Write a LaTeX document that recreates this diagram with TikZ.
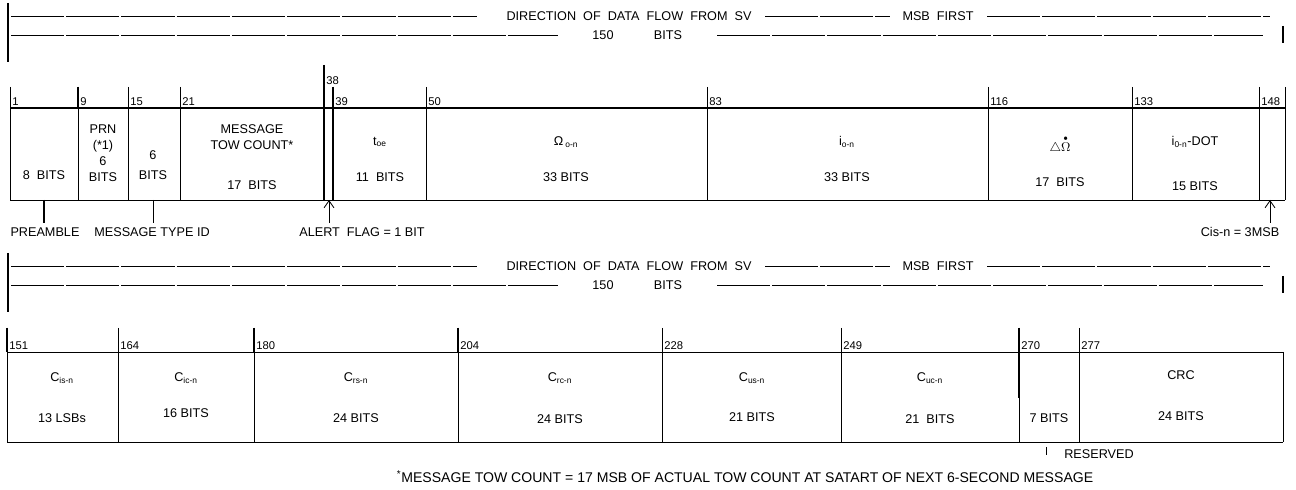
\documentclass[tikz,border=0pt]{standalone}
\usepackage{amsmath}
\usepackage{fontspec}
\setmainfont{Liberation Sans}
\usepackage{tikz}
\usetikzlibrary{arrows.meta,positioning}

\begin{document}
\begin{tikzpicture}[
  x=0.025cm, y=-0.025cm,
  >={Straight Barb[length=5pt,width=7pt]},
  txt/.style={font=\fontsize{9}{11.5}\selectfont, inner sep=0pt, align=center},
  num/.style={font=\fontsize{8}{9}\selectfont, inner sep=0pt, anchor=south west},
  hdr/.style={font=\fontsize{9}{10}\selectfont, inner sep=0pt},
  foot/.style={font=\fontsize{10}{11}\selectfont, inner sep=0pt},
  rule/.style={line width=0.6pt},
  bar/.style={line width=1.5pt},
  flow/.style={line width=0.6pt, dash pattern=on 1.33cm off 0.05cm},
  arr/.style={->, line width=0.6pt},
]
\useasboundingbox (0,0) rectangle (1296,490);

% direction of data flow (both words)
\foreach \dy/\w in {0/A,250/B}{
\begin{scope}[shift={(0,\dy)}]
\draw[bar] (8,3) -- (8,62);
\draw[flow] (11,16) -- (477,16);
\node[hdr] (dir\w) at (629,16) {DIRECTION\ \ OF\ \ DATA\ \ FLOW\ \ FROM\ \ SV};
\draw[flow] (765,16) -- (890,16);
\node[hdr] (msb\w) at (938,16) {MSB\ \ FIRST};
\draw[flow] (987,16) -- (1270,16);
\draw[flow] (11,35) -- (558,35);
\node[hdr] (len\w) at (603,35) {150};
\node[hdr] (bit\w) at (668,35) {BITS};
\draw[flow] (717,35) -- (1263,35);
\draw[bar] (1283,26) -- (1283,43);
\end{scope}
}

% word 1 fields (top)
\draw[bar] (10,108) -- (1285,108);
\draw[rule] (10,200) -- (1285,200);
\foreach \x/\n in {10/1,78/9,128/15,180/21,333/39,426/50,707/83,988/116,1132/133,1259/148}{
  \draw[rule] (\x,87) -- (\x,200);
  \node[num] (tk\n) at (\x+2,106) {\n};
}
\draw[rule] (1285,87) -- (1285,200);
\draw[bar] (78,87) -- (78,108);
\draw[bar] (324,65) -- (324,200);
\node[num] (tk38) at (326,85) {38};
\draw[bar] (333,87) -- (333,200);

\node[txt] (preB) at (44,175) {8\ \ BITS};
\node[txt] (prnN) at (103,153) {PRN\\(*1)\\6\\BITS};
\node[txt] (mtidB) at (153,165) {6\\[2.5pt]BITS};
\node[txt] (towN) at (252,137) {MESSAGE\\TOW COUNT*};
\node[txt] (towB) at (252,185) {17\ \ BITS};
\node[txt] (toeN) at (380,142) {t\textsubscript{oe}};
\node[txt] (toeB) at (380,177) {11\ \ BITS};
\node[txt] (omgN) at (566,142) {Ω\,\textsubscript{o-n}};
\node[txt] (omgB) at (566,177) {33 BITS};
\node[txt] (incN) at (847,142) {i\textsubscript{o-n}};
\node[txt] (incB) at (847,177) {33 BITS};
\node[txt] (domN) at (1060,145) {$\triangle\overset{\scriptscriptstyle\bullet}{\Omega}$};
\node[txt] (domB) at (1060,182) {17\ \ BITS};
\node[txt] (idotN) at (1195,142) {i\textsubscript{0-n}-DOT};
\node[txt] (idotB) at (1195,186) {15 BITS};

% pointers below word 1
\coordinate (preT) at (44,200);
\coordinate (mtidT) at (153,200);
\coordinate (alertT) at (329,200);
\coordinate (cisT) at (1270,200);
\node[txt] (preL) at (45,232) {PREAMBLE};
\node[txt] (mtidL) at (152,232) {MESSAGE TYPE ID};
\node[txt] (alertL) at (362,232) {ALERT\ \ FLAG = 1 BIT};
\node[txt] (cisL) at (1240,232) {Cis-n = 3MSB};
\draw[bar] (preT) -- ([yshift=3pt]preT |- preL.north);
\draw[rule] (mtidT) -- ([yshift=3pt]mtidT |- mtidL.north);
\draw[arr] ([yshift=3pt]alertT |- alertL.north) -- (alertT);
\draw[arr] ([yshift=3pt]cisT |- cisL.north) -- (cisT);

% word 2 fields (bottom)
\draw[rule] (7,352) -- (1283,352);
\draw[rule] (7,442) -- (1283,442);
\foreach \x/\n in {7/151,118/164,254/180,458/204,662/228,841/249,1019/270,1079/277}{
  \draw[rule] (\x,328) -- (\x,442);
  \node[num] (tk\n) at (\x+2,350) {\n};
}
\draw[rule] (1283,352) -- (1283,442);
\foreach \x in {7,254,458}
  \draw[bar] (\x,328) -- (\x,352);
\draw[bar] (1019,328) -- (1019,398);

\node[txt] (cisN) at (62,378) {C\textsubscript{is-n}};
\node[txt] (cisB) at (62,418) {13 LSBs};
\node[txt] (cicN) at (186,378) {C\textsubscript{ic-n}};
\node[txt] (cicB) at (186,413) {16 BITS};
\node[txt] (crsN) at (356,378) {C\textsubscript{rs-n}};
\node[txt] (crsB) at (356,418) {24 BITS};
\node[txt] (crcN) at (560,378) {C\textsubscript{rc-n}};
\node[txt] (crcB) at (560,419) {24 BITS};
\node[txt] (cusN) at (752,378) {C\textsubscript{us-n}};
\node[txt] (cusB) at (752,417) {21 BITS};
\node[txt] (cucN) at (930,378) {C\textsubscript{uc-n}};
\node[txt] (cucB) at (930,419) {21\ \ BITS};
\node[txt] (rsvB) at (1049,418) {7 BITS};
\node[txt] (crcfN) at (1181,375) {CRC};
\node[txt] (crcfB) at (1181,416) {24 BITS};

% reserved pointer and footnote
\coordinate (rsvT) at (1046,447);
\node[txt] (rsvL) at (1099,454) {RESERVED};
\draw[rule] (rsvT) -- ++(0,8);
\node[foot] (note) at (745,477) {\textsuperscript{*}MESSAGE TOW COUNT = 17 MSB OF ACTUAL TOW COUNT AT SATART OF NEXT 6-SECOND MESSAGE};
\end{tikzpicture}
\end{document}
